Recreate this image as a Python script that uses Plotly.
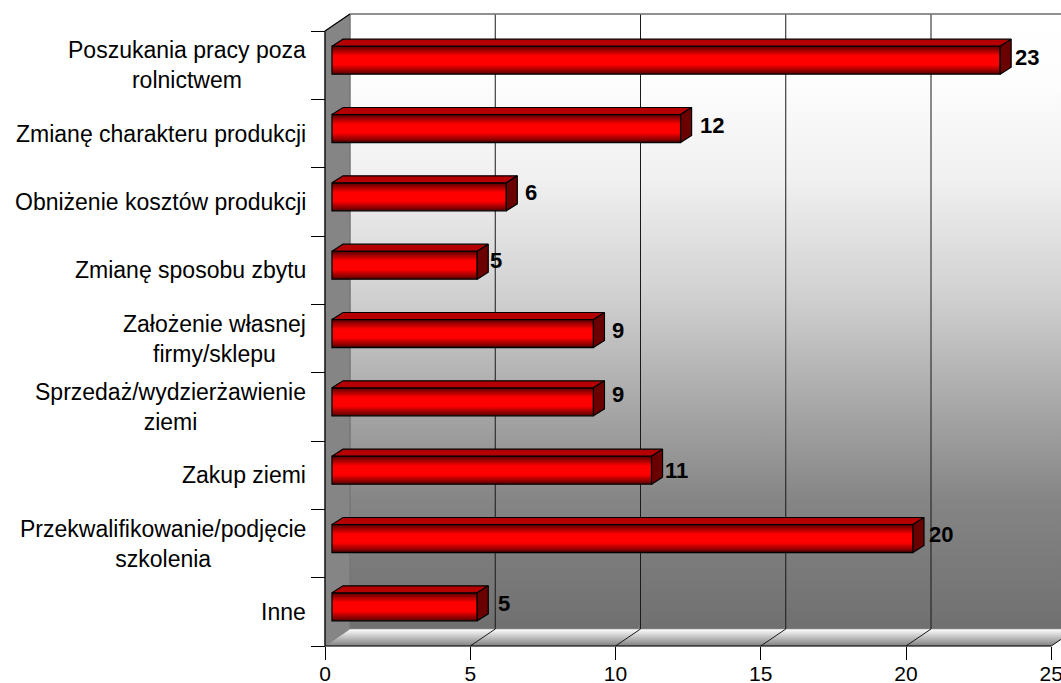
import plotly.graph_objects as go

categories = ["Poszukania pracy poza<br>rolnictwem", "Zmianę charakteru produkcji", "Obniżenie kosztów produkcji",
              "Zmianę sposobu zbytu", "Założenie własnej<br>firmy/sklepu", "Sprzedaż/wydzierżawienie<br>ziemi",
              "Zakup ziemi", "Przekwalifikowanie/podjęcie<br>szkolenia", "Inne"]
values = [23, 12, 6, 5, 9, 9, 11, 20, 5]
x_ticks = [0, 5, 10, 15, 20, 25]
# label nudges in pixels (right of value position, up from band centre)
label_dx = [20, 24, 24, 18, 24, 24, 18, 21, 26]
label_dy = [8, 8.5, 9, 10, 8, 12, 5, 9, 8]

W, H = 1061, 683
X0, Y_BOTTOM, Y_TOP = 325, 646, 31
PXU = 29.05
PXC = (Y_BOTTOM - Y_TOP) / 9
XR = [-X0 / PXU, (W - X0) / PXU]
YB, YT = -0.5, 8.5
YR = [YB - (H - Y_BOTTOM) / PXC, YT + Y_TOP / PXC]
DX, DY = 25 / PXU, 17 / PXC
XMAX = x_ticks[-1]
FONT = "Liberation Sans"
FS = 23

fig = go.Figure()

def wall(xs, ys, **kw):
    fig.add_trace(go.Scatter(x=xs, y=ys, xaxis="x", yaxis="y", showlegend=False, hoverinfo="skip", **kw))

# back wall
wall([DX, XMAX + DX, XMAX + DX, DX, DX], [YB + DY, YB + DY, YT + DY, YT + DY, YB + DY], mode="lines",
     fill="toself", line=dict(color="#808080", width=1),
     fillgradient=dict(type="vertical", colorscale=[[0, "#707070"], [0.21, "#858585"], [0.55, "#d2d2d2"],
                                                    [0.73, "#f0f0f0"], [0.89, "#fdfdfd"], [1, "#ffffff"]]))
# side wall
wall([0, DX, DX, 0, 0], [YB, YB + DY, YT + DY, YT, YB], mode="lines", fill="toself",
     fillcolor="#858585", line=dict(color="#707070", width=1))
# floor
wall([0, XMAX, XMAX + DX, DX, 0], [YB, YB, YB + DY, YB + DY, YB], mode="lines", fill="toself",
     line=dict(color="#808080", width=0.5),
     fillgradient=dict(type="vertical", colorscale=[[0, "#808080"], [1, "#ffffff"]]))
# grid on wall and floor
gx, gy = [], []
for v in x_ticks[1:]:
    gx += [v, v + DX, v + DX, None]
    gy += [YB, YB + DY, YT + DY, None]
wall(gx, gy, mode="lines", line=dict(color="#1a1a1a", width=1))
# axis lines and corner edges
wall([XMAX, 0, 0, DX], [YB, YB, YT, YT + DY], mode="lines", line=dict(color="#000000", width=1.2))
wall([DX, XMAX + DX], [YT + DY, YT + DY], mode="lines", line=dict(color="#808080", width=1.5))

# bars: gradient built from stacked layers
BAR_PX = 28
BASE = 7 / PXU
SHIFT = 5 / PXC
n = 14
for i in range(n):
    w = (BAR_PX - 2 * i) / PXC
    t = i / (n - 1)
    r = int(min(255, 95 + 230 * t))
    fig.add_trace(go.Bar(x=values, y=categories, base=BASE, orientation="h", width=w, offset=SHIFT - w / 2,
                         marker=dict(color=f"rgb({r},0,0)", line=dict(width=0)),
                         xaxis="x2", yaxis="y2", showlegend=False, hoverinfo="skip"))
bw = BAR_PX / PXC
fig.add_trace(go.Bar(x=values, y=categories, base=BASE, orientation="h", width=bw, offset=SHIFT - bw / 2,
                     marker=dict(color="rgba(0,0,0,0)", line=dict(color="#000000", width=1.3)),
                     xaxis="x2", yaxis="y2", showlegend=False, hoverinfo="skip"))

# top and side faces
DEP_X, DEP_Y = 11 / PXU, 7 / PXC
tx, ty, sx, sy = [], [], [], []
for i, v in enumerate(values):
    yc = len(values) - 1 - i + SHIFT
    top, bot = yc + bw / 2, yc - bw / 2
    xe = BASE + v
    tx += [BASE, BASE + DEP_X, xe + DEP_X, xe, BASE, None]
    ty += [top, top + DEP_Y, top + DEP_Y, top, top, None]
    sx += [xe, xe + DEP_X, xe + DEP_X, xe, xe, None]
    sy += [top, top + DEP_Y, bot + DEP_Y, bot, top, None]
face = dict(mode="lines", fill="toself", xaxis="x3", yaxis="y3", showlegend=False, hoverinfo="skip")
fig.add_trace(go.Scatter(x=tx, y=ty, fillcolor="#b40000", line=dict(color="#000000", width=1.2), **face))
fig.add_trace(go.Scatter(x=sx, y=sy, fillcolor="#6a0000", line=dict(color="#000000", width=1.2), **face))

annotations = []
for c in categories:
    annotations.append(dict(x=-17.5 / PXU, y=c, xref="x2", yref="y2", text=c, showarrow=False, xanchor="right",
                            yanchor="middle", align="center", font=dict(family=FONT, size=FS, color="#000000")))
for c, v, ldx, ldy in zip(categories, values, label_dx, label_dy):
    annotations.append(dict(x=v, y=c, xref="x2", yref="y2", text=str(v), showarrow=False, xanchor="left",
                            yanchor="middle", xshift=ldx, yshift=ldy,
                            font=dict(family=FONT, size=22, color="#000000", weight="bold")))

hidden = dict(visible=False, domain=[0, 1], fixedrange=True)
fig.update_layout(
    width=W, height=H, margin=dict(l=0, r=0, t=0, b=0, pad=0, autoexpand=False), autosize=False,
    paper_bgcolor="#ffffff", plot_bgcolor="rgba(0,0,0,0)", barmode="overlay", showlegend=False,
    font=dict(family=FONT, size=FS, color="#000000"),
    xaxis=dict(range=XR, **hidden),
    yaxis=dict(range=YR, **hidden),
    xaxis2=dict(range=XR, domain=[0, 1], overlaying="x", anchor="free", position=(H - Y_BOTTOM) / H, side="bottom",
                tickmode="array", tickvals=x_ticks, ticktext=[str(t) for t in x_ticks], ticks="outside", ticklen=13,
                tickwidth=1, tickcolor="#000000", showline=False, showgrid=False, zeroline=False, automargin=False,
                ticklabelstandoff=-4, ticklabeloverflow="allow",
                tickfont=dict(family=FONT, size=21, color="#000000"), fixedrange=True),
    yaxis2=dict(range=YR, domain=[0, 1], overlaying="y", anchor="free", position=X0 / W, side="left",
                type="category", categoryorder="array", categoryarray=categories[::-1], tickson="boundaries",
                ticks="outside", ticklen=14, tickwidth=1, tickcolor="#000000", showticklabels=False, automargin=False,
                showline=False, showgrid=False, zeroline=False, fixedrange=True),
    xaxis3=dict(range=XR, overlaying="x", **hidden),
    yaxis3=dict(range=YR, overlaying="y", **hidden),
    annotations=annotations,
)
fig.write_html("out.html", config={"displayModeBar": False},
               post_script="document.documentElement.style.margin='0';document.body.style.margin='0';document.body.style.overflow='hidden';")
